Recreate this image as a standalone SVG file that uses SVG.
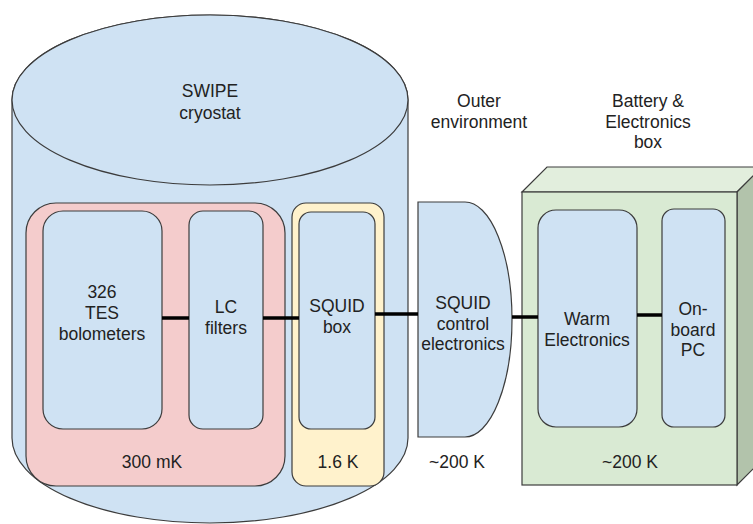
<svg xmlns="http://www.w3.org/2000/svg" width="753" height="524" viewBox="0 0 753 524">
<style>
text{font-family:"Liberation Sans",Arial,sans-serif;font-size:17.5px;fill:#222;text-anchor:middle}
.sh{stroke:#3c3c3c;stroke-width:1.2}
.blue{fill:#cfe2f3}
.pink{fill:#f4cccc}
.yellow{fill:#fff2cc}
.green{fill:#d9ead3}
.conn{stroke:#000;stroke-width:3.5;fill:none}
</style>
<rect width="753" height="524" fill="#fff"/>
<g id="cryostat">
<path class="sh blue" d="M12,100 A198,85 0 0 1 408,100 L408,438 A198,85 0 0 1 12,438 Z"/>
<ellipse class="sh blue" cx="210" cy="100" rx="198" ry="85"/>
<text x="210" y="97">SWIPE</text>
<text x="210" y="118.5">cryostat</text>
</g>
<g id="stage300mK">
<rect class="sh pink" x="26" y="203" width="259" height="283" rx="30"/>
<text x="152" y="468">300 mK</text>
</g>
<g id="stage1_6K">
<rect class="sh yellow" x="292" y="203" width="92" height="283" rx="14"/>
<text x="338" y="468">1.6 K</text>
</g>
<g id="tes">
<rect class="sh blue" x="43" y="211" width="119" height="218" rx="20"/>
<text x="102" y="298">326</text>
<text x="102" y="319">TES</text>
<text x="102" y="339.5">bolometers</text>
</g>
<g id="lcfilters">
<rect class="sh blue" x="189" y="211" width="74" height="218" rx="14"/>
<text x="226" y="313">LC</text>
<text x="226" y="334">filters</text>
</g>
<g id="squidbox">
<rect class="sh blue" x="299" y="212" width="76" height="217" rx="12"/>
<text x="337" y="312">SQUID</text>
<text x="337" y="333">box</text>
</g>
<g id="outer">
<text x="479" y="107">Outer</text>
<text x="479" y="128">environment</text>
<text x="457" y="468">~200 K</text>
</g>
<g id="squidcontrol">
<path class="sh blue" d="M418,202 L465,202 A47,117.5 0 0 1 465,437 L418,437 Z"/>
<text x="463" y="309">SQUID</text>
<text x="463" y="330">control</text>
<text x="463" y="350">electronics</text>
</g>
<g id="batterybox">
<text x="648" y="107">Battery &amp;</text>
<text x="648" y="128">Electronics</text>
<text x="648" y="148">box</text>
<polygon class="sh" fill="#e2eedd" points="522,192 547,167 762,167 737,192"/>
<polygon class="sh" fill="#b2c3ab" points="737,192 762,167 762,460 737,485"/>
<rect class="sh green" x="522" y="192" width="215" height="293"/>
<text x="630" y="468">~200 K</text>
</g>
<g id="warm">
<rect class="sh blue" x="538" y="210" width="99" height="217" rx="18"/>
<text x="587" y="325">Warm</text>
<text x="587" y="346">Electronics</text>
</g>
<g id="pc">
<rect class="sh blue" x="662" y="209" width="63" height="218" rx="12"/>
<text x="693" y="315">On-</text>
<text x="693" y="336">board</text>
<text x="693" y="356">PC</text>
</g>
<g id="connectors">
<line class="conn" x1="162" y1="318" x2="189" y2="318"/>
<line class="conn" x1="263" y1="318" x2="299" y2="318"/>
<line class="conn" x1="375" y1="314" x2="418" y2="314"/>
<line class="conn" x1="512" y1="317" x2="538" y2="317"/>
<line class="conn" x1="637" y1="315" x2="662" y2="315"/>
</g>
</svg>
